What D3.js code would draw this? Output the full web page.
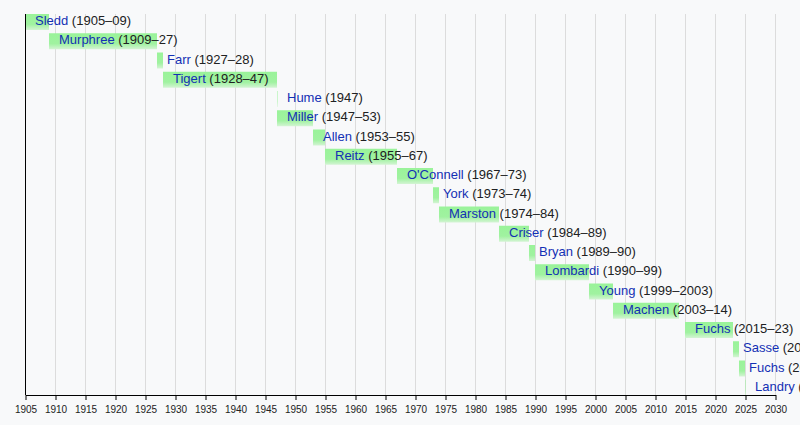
<!DOCTYPE html>
<html>
<head>
<meta charset="utf-8">
<script src="https://cdn.jsdelivr.net/npm/d3@7"></script>
<style>
  html, body { margin: 0; padding: 0; background: #f8f9fa; overflow: hidden; }
  svg { display: block; }
</style>
</head>
<body>
<svg id="chart" width="800" height="425"></svg>
<script>
// presidents, in order of the rows
const names = ['Sledd', 'Murphree', 'Farr', 'Tigert', 'Hume', 'Miller', 'Allen', 'Reitz',
  "O'Connell", 'York', 'Marston', 'Criser', 'Bryan', 'Lombardi', 'Young', 'Machen',
  'Fuchs', 'Sasse', 'Fuchs', 'Landry'];
const startYears = [1905, 1909, 1927, 1928, 1947, 1947, 1953, 1955, 1967, 1973, 1974, 1984,
  1989, 1990, 1999, 2003, 2015, 2023, 2024, 2025];
const endYears = [1909, 1927, 1928, 1947, 1947, 1953, 1955, 1967, 1973, 1974, 1984, 1989,
  1990, 1999, 2003, 2014, 2023, 2024, 2025, 2025];
const termLabels = ['(1905–09)', '(1909–27)', '(1927–28)', '(1928–47)', '(1947)', '(1947–53)',
  '(1953–55)', '(1955–67)', '(1967–73)', '(1973–74)', '(1974–84)', '(1984–89)', '(1989–90)',
  '(1990–99)', '(1999–2003)', '(2003–14)', '(2015–23)', '(2023–24)', '(2024–25)', '(2025–)'];
const tickYears = d3.range(1905, 2031, 5);

const svg = d3.select('#chart');
const plotLeft = 25, plotRight = 775, plotTop = 14, axisY = 395;
const rowH = 19.25, barH = 16;

const x = d3.scaleLinear().domain([1905, 2030]).range([plotLeft, plotRight]);
const y = d3.scaleBand().domain(d3.range(names.length)).range([plotTop, plotTop + rowH * names.length]);

// bar shading, darker at the top and fading out at the bottom
const grad = svg.append('defs').append('linearGradient')
  .attr('id', 'barFill').attr('x1', 0).attr('x2', 0).attr('y1', 0).attr('y2', 1);
grad.append('stop').attr('offset', '0%').attr('stop-color', '#9af39a');
grad.append('stop').attr('offset', '65%').attr('stop-color', '#a0f2a0');
grad.append('stop').attr('offset', '100%').attr('stop-color', '#d4f4d4');

// vertical grid
svg.append('g')
  .selectAll('line')
  .data(tickYears.slice(1))
  .join('line')
  .attr('x1', d => x(d) + 0.5)
  .attr('x2', d => x(d) + 0.5)
  .attr('y1', plotTop)
  .attr('y2', axisY)
  .attr('stroke', '#dcdcdc')
  .attr('stroke-width', 1);

// bars
svg.append('g')
  .selectAll('rect')
  .data(names)
  .join('rect')
  .attr('x', (d, i) => x(startYears[i]))
  .attr('y', (d, i) => y(i))
  .attr('width', (d, i) => Math.max(1, x(endYears[i]) - x(startYears[i])))
  .attr('height', barH)
  .attr('fill', 'url(#barFill)')
  .attr('opacity', (d, i) => endYears[i] === startYears[i] ? 0.5 : 1);

// labels: name in link blue, term in black
const labels = svg.append('g')
  .attr('font-family', 'Liberation Sans, Arial, sans-serif')
  .attr('font-size', 13)
  .selectAll('text')
  .data(names)
  .join('text')
  .attr('x', (d, i) => x(startYears[i]) + 10)
  .attr('y', (d, i) => y(i) + 11);
labels.append('tspan').attr('fill', '#1330b4').text(d => d);
labels.append('tspan').attr('fill', '#202122').text((d, i) => ' ' + termLabels[i]);

// axes
svg.append('line')
  .attr('x1', plotLeft + 0.5).attr('x2', plotLeft + 0.5)
  .attr('y1', plotTop).attr('y2', axisY)
  .attr('stroke', '#000');

const axis = svg.append('g')
  .attr('transform', `translate(0.5,${axisY})`)
  .call(d3.axisBottom(x).tickValues(tickYears).tickFormat(d3.format('d')).tickSize(5).tickSizeOuter(0));
axis.select('.domain').attr('stroke', '#000');
axis.selectAll('.tick line').attr('stroke', '#000');
axis.selectAll('.tick text')
  .attr('font-family', 'Liberation Sans, Arial, sans-serif')
  .attr('font-size', 10)
  .attr('fill', '#222')
  .attr('dy', '0.95em');
</script>
</body>
</html>
